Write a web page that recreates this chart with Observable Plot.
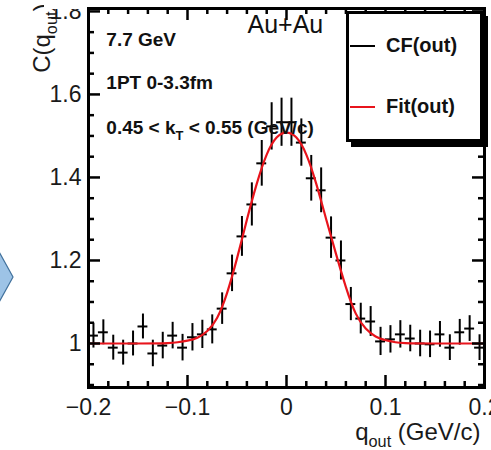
<!DOCTYPE html>
<html><head><meta charset="utf-8">
<script src="https://cdn.jsdelivr.net/npm/d3@7"></script>
<script src="https://cdn.jsdelivr.net/npm/@observablehq/plot@0.6"></script>
<style>
body{margin:0;background:#fff;}
#wrap{position:relative;width:491px;height:450px;overflow:hidden;font-family:"Liberation Sans",Arial,Helvetica,sans-serif;background:#fff;}
#wrap svg.plotsvg{position:absolute;left:0;top:0;}
#wrap #legend{position:absolute;left:346px;top:11px;width:137px;height:131px;box-sizing:border-box;border:3px solid #000;background:#fff;box-shadow:5px 5px 0 #000;z-index:3;}
#legend .row{position:absolute;left:0;display:flex;align-items:center;font-weight:bold;font-size:20px;color:#111;}
#legend .sw{display:inline-block;width:25px;height:2px;margin-left:1px;margin-right:11px;}
#wrap #cover{position:absolute;left:44px;top:0;width:42px;height:9px;background:#fff;z-index:2;}
#wrap #deco{position:absolute;left:0;top:245px;z-index:2;}
</style></head><body>
<div id="wrap">
  <svg id="deco" width="16" height="64"><polygon points="-2,5 13,32 -2,59" fill="#9dc3e6" stroke="#41719c" stroke-width="1.2"/></svg>
  <div id="cover"></div>
  <div id="legend">
    <div class="row" style="top:20px"><span class="sw" style="background:#000"></span>CF(out)</div>
    <div class="row" style="top:81px"><span class="sw" style="background:#e8141c"></span>Fit(out)</div>
  </div>
</div>
<script>
// ---- data ----
const qCenters = [-0.195,-0.185,-0.175,-0.165,-0.155,-0.145,-0.135,-0.125,-0.115,-0.105,
  -0.095,-0.085,-0.075,-0.065,-0.055,-0.045,-0.035,-0.025,-0.015,-0.005,
  0.005,0.015,0.025,0.035,0.045,0.055,0.065,0.075,0.085,0.095,
  0.105,0.115,0.125,0.135,0.145,0.155,0.165,0.175,0.185,0.195];
const cfValues = [1.019,1.027,0.990,0.978,1.000,1.041,0.976,0.995,1.019,0.990,
  1.015,1.022,1.034,1.084,1.169,1.258,1.335,1.434,1.523,1.533,
  1.533,1.484,1.398,1.369,1.255,1.200,1.095,1.060,1.053,1.005,
  1.010,1.022,1.012,1.000,0.998,1.022,0.990,1.027,1.036,0.990];
const cfErrors = [0.030,0.030,0.030,0.030,0.030,0.030,0.032,0.032,0.032,0.032,
  0.033,0.034,0.035,0.038,0.044,0.048,0.052,0.055,0.057,0.058,
  0.058,0.057,0.055,0.054,0.050,0.047,0.040,0.037,0.036,0.034,
  0.033,0.033,0.032,0.032,0.032,0.031,0.031,0.031,0.031,0.031];
const binHalfWidth = 0.005;
const fitQ = [-0.20,-0.15,-0.12,-0.11,-0.10,-0.09,-0.08,-0.07,-0.06,-0.05,-0.04,-0.03,-0.02,-0.01,
  0.00,0.01,0.02,0.03,0.04,0.05,0.06,0.07,0.08,0.09,0.10,0.11,0.12,0.15,0.20];
const fitC = [1.000,1.000,1.001,1.003,1.007,1.014,1.030,1.062,1.122,1.205,1.298,1.385,1.455,1.496,
  1.508,1.496,1.455,1.385,1.300,1.216,1.136,1.072,1.036,1.017,1.008,1.003,1.001,1.000,1.000];
const xMajorTicks = [-0.2,-0.1,0,0.1,0.2];
const xMinorTicks = [-0.18,-0.16,-0.14,-0.12,-0.08,-0.06,-0.04,-0.02,0.02,0.04,0.06,0.08,0.12,0.14,0.16,0.18];
const yMajorTicks = [1.0,1.2,1.4,1.6,1.8];
const yMinorTicks = [0.9,0.95,1.05,1.1,1.15,1.25,1.3,1.35,1.45,1.5,1.55,1.65,1.7,1.75];
const noteTexts = ["7.7 GeV","1PT 0-3.3fm","0.45 < k_{T} < 0.55 (GeV/c)"];
const noteQ = [-0.182,-0.182,-0.182];
const noteC = [1.731,1.628,1.519];
const systemText = "Au+Au";
const systemQ = -0.0394, systemC = 1.767;
const yTitle = "C(q_{out})";
const xTitle = "q_{out} (GeV/c)";

// ---- layout ----
const W = 491, H = 450, mL = 88, mR = 7, mT = 8, mB = 63;
const innerW = W - mL - mR, innerH = H - mT - mB;
const majLen = 12, minLen = 6;

const points = qCenters.map((q,i)=>({q, c: cfValues[i], e: cfErrors[i]}));
const fit = fitQ.map((q,i)=>({q, c: fitC[i]}));
const notes = noteTexts.map((t,i)=>({t, q: noteQ[i], c: noteC[i]}));
const FONT = '"Liberation Sans", Arial, Helvetica, sans-serif';

const fmtX = d => d === 0 ? "0" : (d < 0 ? "\u2212" : "") + Math.abs(d).toFixed(1);
const fmtY = d => d === 1 ? "1" : d.toFixed(1);

const chart = Plot.plot({
  width: W, height: H,
  marginLeft: mL, marginRight: mR, marginTop: mT, marginBottom: mB,
  style: {fontFamily: FONT, fontSize: "23px", color: "#1a1a1a", background: "transparent"},
  x: {domain: [-0.2, 0.2], ticks: xMajorTicks, tickSize: 0, tickPadding: 11, tickFormat: fmtX, label: null},
  y: {domain: [0.894, 1.807], ticks: yMajorTicks, tickSize: 0, tickPadding: 7, tickFormat: fmtY, label: null},
  marks: [
    Plot.ruleX(points, {x: "q", y1: d => d.c - d.e, y2: d => d.c + d.e, stroke: "#000", strokeWidth: 2}),
    Plot.ruleY(points, {y: "c", x1: d => d.q - binHalfWidth, x2: d => d.q + binHalfWidth, stroke: "#000", strokeWidth: 2}),
    Plot.line(fit, {x: "q", y: "c", stroke: "#e8141c", strokeWidth: 2.2, curve: "natural"}),
    Plot.tickX(xMajorTicks, {x: d => d, insetTop: innerH - majLen, stroke: "#000", strokeWidth: 2.5}),
    Plot.tickX(xMinorTicks, {x: d => d, insetTop: innerH - minLen, stroke: "#000", strokeWidth: 2.5}),
    Plot.tickX(xMajorTicks, {x: d => d, insetBottom: innerH - majLen, stroke: "#000", strokeWidth: 2.5}),
    Plot.tickX(xMinorTicks, {x: d => d, insetBottom: innerH - minLen, stroke: "#000", strokeWidth: 2.5}),
    Plot.tickY(yMajorTicks, {y: d => d, insetRight: innerW - majLen, stroke: "#000", strokeWidth: 2.5}),
    Plot.tickY(yMinorTicks, {y: d => d, insetRight: innerW - minLen, stroke: "#000", strokeWidth: 2.5}),
    Plot.tickY(yMajorTicks, {y: d => d, insetLeft: innerW - majLen, stroke: "#000", strokeWidth: 2.5}),
    Plot.tickY(yMinorTicks, {y: d => d, insetLeft: innerW - minLen, stroke: "#000", strokeWidth: 2.5}),
    Plot.frame({stroke: "#000", strokeWidth: 3}),
    Plot.text(notes, {x: "q", y: "c", text: "t", textAnchor: "start", fontSize: 19, fontWeight: "bold", fill: "#111"}),
    Plot.text([systemText], {x: () => systemQ, y: () => systemC, text: d => d, textAnchor: "start", fontSize: 25, fill: "#111"}),
    Plot.text([yTitle], {frameAnchor: "top-left", text: d => d, rotate: -90, textAnchor: "end", dx: -56, dy: -5, fontSize: 24, fill: "#1a1a1a"}),
    Plot.text([xTitle], {frameAnchor: "bottom-right", text: d => d, textAnchor: "end", dx: -4, dy: 52, fontSize: 24, fill: "#1a1a1a"})
  ]
});
chart.classList.add("plotsvg");

const wrap = document.getElementById("wrap");
wrap.insertBefore(chart, wrap.firstChild);

// subscripts
const NS = "http://www.w3.org/2000/svg";
chart.querySelectorAll("text").forEach(t => {
  const s = t.textContent;
  if (!s.includes("_{")) return;
  const fs = parseFloat(getComputedStyle(t).fontSize) || 20;
  const shift = fs * 0.3;
  t.textContent = "";
  let down = false;
  s.split(/(_\{[^}]*\})/).forEach(p => {
    if (!p) return;
    const ts = document.createElementNS(NS, "tspan");
    if (p.startsWith("_{")) {
      ts.textContent = p.slice(2, -1);
      ts.setAttribute("font-size", (fs * 0.68).toFixed(1));
      ts.setAttribute("dy", shift.toFixed(1));
      down = true;
    } else {
      ts.textContent = p;
      if (down) { ts.setAttribute("dy", (-shift).toFixed(1)); down = false; }
    }
    t.appendChild(ts);
  });
});
</script>
</body></html>
